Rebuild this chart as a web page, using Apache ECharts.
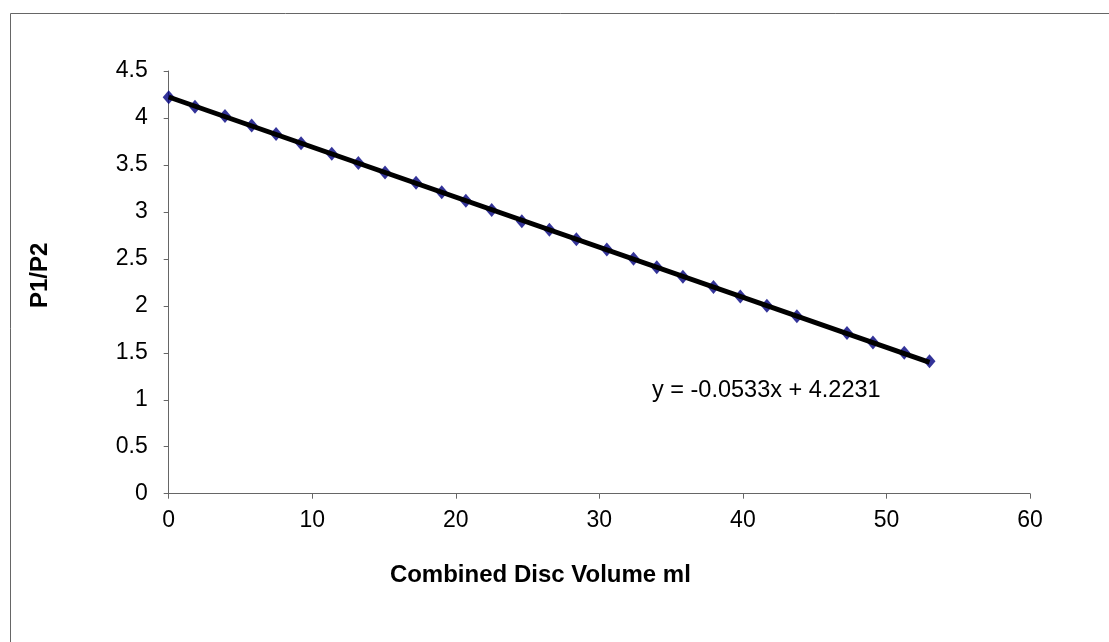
<!DOCTYPE html>
<html>
<head>
<meta charset="utf-8">
<script src="https://cdn.jsdelivr.net/npm/echarts@6/dist/echarts.min.js"></script>
<style>
html,body{margin:0;padding:0;background:#fff;}
#chart{width:1109px;height:642px;}
</style>
</head>
<body>
<div id="chart"></div>
<script>
// Data
const discVolume = [0, 1.83, 3.92, 5.78, 7.48, 9.22, 11.36, 13.21, 15.07, 17.23, 19.02, 20.7, 22.5, 24.6, 26.52, 28.4, 30.52, 32.38, 34.0, 35.82, 37.95, 39.82, 41.67, 43.76, 47.25, 49.06, 51.24, 53.0];
const pressureRatio = [4.22, 4.12, 4.02, 3.92, 3.83, 3.73, 3.62, 3.52, 3.42, 3.31, 3.21, 3.12, 3.02, 2.90, 2.81, 2.71, 2.60, 2.50, 2.41, 2.31, 2.20, 2.10, 2.00, 1.89, 1.71, 1.61, 1.50, 1.41];
// Trendline endpoints (linear fit shown on the chart)
const trendX = [0, 53];
const trendY = [4.2231, 1.3982];
const trendLabel = 'y = -0.0533x + 4.2231';
const xTitle = 'Combined Disc Volume ml';
const yTitle = 'P1/P2';

const points = discVolume.map((x, i) => [x, pressureRatio[i]]);
const trend = trendX.map((x, i) => [x, trendY[i]]);

const FONT = '"Liberation Sans", Arial, sans-serif';
const chart = echarts.init(document.getElementById('chart'), null, {renderer: 'canvas'});
chart.setOption({
  animation: false,
  backgroundColor: '#ffffff',
  grid: {left: 168.7, right: 79, top: 71, bottom: 148.3, containLabel: false},
  xAxis: {
    type: 'value', min: 0, max: 60, interval: 10,
    name: xTitle, nameLocation: 'middle', nameGap: 70,
    nameTextStyle: {fontFamily: FONT, fontWeight: 'bold', fontSize: 24, color: '#000', padding: [0, 118, 0, 0]},
    axisLine: {show: true, lineStyle: {color: '#666666', width: 1}},
    axisTick: {show: true, inside: false, length: 5, lineStyle: {color: '#666666'}},
    axisLabel: {fontFamily: FONT, fontSize: 23, color: '#000', margin: 15},
    splitLine: {show: false}
  },
  yAxis: {
    type: 'value', min: 0, max: 4.5, interval: 0.5,
    name: yTitle, nameLocation: 'middle', nameGap: 116, nameRotate: 90,
    nameTextStyle: {fontFamily: FONT, fontWeight: 'bold', fontSize: 24, color: '#000', padding: [0, 0, 0, 14]},
    axisLine: {show: true, lineStyle: {color: '#666666', width: 1}},
    axisTick: {show: true, inside: false, length: 5, lineStyle: {color: '#666666'}},
    axisLabel: {fontFamily: FONT, fontSize: 23, color: '#000', margin: 21},
    splitLine: {show: false}
  },
  series: [
    {
      type: 'scatter', data: points, symbol: 'diamond', symbolSize: [12, 14],
      itemStyle: {color: '#000080'}, z: 2
    },
    {
      type: 'line', data: trend, showSymbol: false, symbol: 'none',
      lineStyle: {color: '#000000', width: 5}, z: 3
    }
  ],
  graphic: [
    {type: 'rect', left: 8, top: 11, z: -10, silent: true,
     shape: {x: 0, y: 0, width: 1300, height: 800},
     style: {fill: 'none', stroke: '#666666', lineWidth: 1}},
    {type: 'text', left: 652, top: 379, z: 10,
     style: {text: trendLabel, fontFamily: FONT, fontSize: 23.5, fill: '#000'}}
  ]
});
</script>
</body>
</html>
